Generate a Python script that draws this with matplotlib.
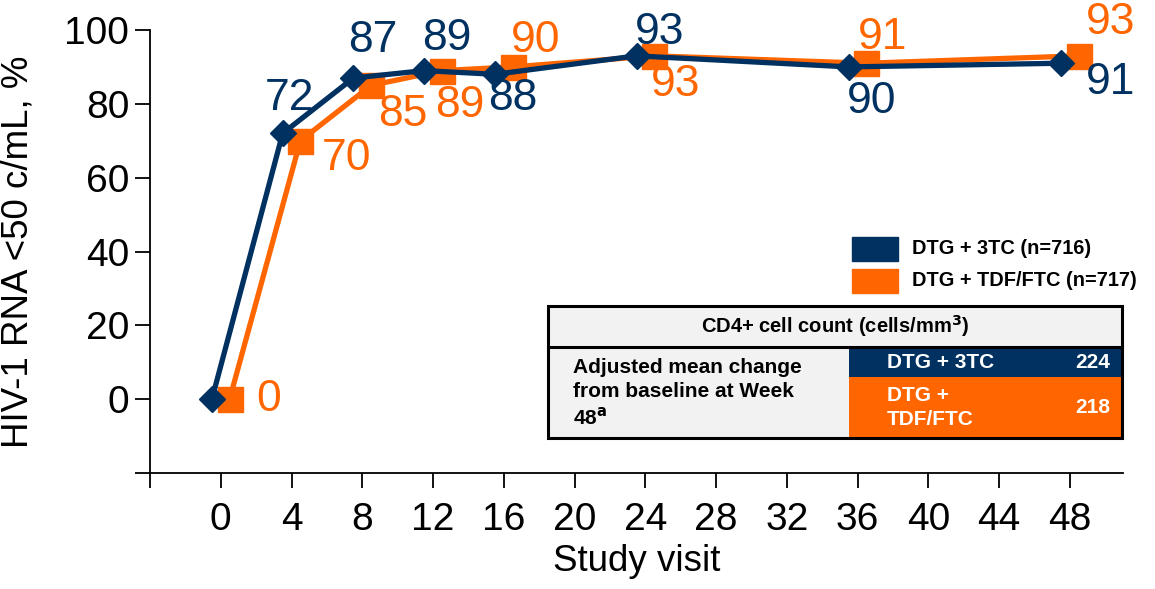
import matplotlib
matplotlib.use("Agg")
import matplotlib.pyplot as plt
from matplotlib.patches import Rectangle

plt.rcParams['font.family'] = ['Liberation Sans', 'DejaVu Sans']

# Study visits (weeks) and response rates (%)
weeks = [0, 4, 8, 12, 16, 24, 36, 48]
dtg_3tc = [0, 72, 87, 89, 88, 93, 90, 91]
dtg_tdf = [0, 70, 85, 89, 90, 93, 91, 93]
series_names = ["DTG + 3TC (n=716)", "DTG + TDF/FTC (n=717)"]
xtick_values = list(range(-4, 49, 4))
ytick_values = list(range(-20, 101, 20))

# CD4+ table contents
cd4_header = "CD4+ cell count (cells/mm$^{\\mathbf{3}}$)"
cd4_row_label = "Adjusted mean change\nfrom baseline at Week\n48$^{\\mathbf{a}}$"
cd4_arms = ["DTG + 3TC", "DTG +\nTDF/FTC"]
cd4_values = [224, 218]

NAVY = "#003161"
ORANGE = "#FF6600"

fig = plt.figure(figsize=(11.55, 5.89), dpi=100)
W, H = 1155, 589
ax = fig.add_axes([150 / W, 1 - 473 / H, (1123 - 150) / W, (473 - 30) / H])

off = 0.5
x_dtg = [w - off for w in weeks]
x_tdf = [w + off for w in weeks]

ax.plot(x_tdf, dtg_tdf, color=ORANGE, lw=3.8, marker="s", ms=18,
        clip_on=False, zorder=3)
ax.plot(x_dtg, dtg_3tc, color=NAVY, lw=3.8, marker="D", ms=13,
        clip_on=False, zorder=4)

# value labels: (dx in weeks, dy in %) offsets from each point
dtg_offsets = [None, (0.4, 9.5), (1.1, 10.2), (1.3, 8.7), (1.0, -6.5),
               (1.3, 6.3), (1.3, -9.3), (2.8, -5.2)]
tdf_offsets = [(2.2, 0), (2.6, -4.8), (1.8, -8), (1.0, -9.4), (1.3, 7.2),
               (1.2, -7.7), (0.9, 7.1), (1.8, 9.0)]
for x, y, o in zip(x_dtg, dtg_3tc, dtg_offsets):
    if o is None:
        continue
    ax.text(x + o[0], y + o[1], str(y), color=NAVY, fontsize=32,
            ha="center", va="center", zorder=5, clip_on=False)
for x, y, o in zip(x_tdf, dtg_tdf, tdf_offsets):
    ax.text(x + o[0], y + o[1], str(y), color=ORANGE, fontsize=32,
            ha="center", va="center", zorder=5, clip_on=False)

ax.set_xlim(-4, 51)
ax.set_ylim(-20, 100)
ax.set_xticks(xtick_values)
ax.set_xticklabels(["" if v < 0 else str(v) for v in xtick_values])
ax.set_yticks(ytick_values)
ax.set_yticklabels(["" if v < 0 else str(v) for v in ytick_values])
ax.tick_params(axis="both", labelsize=28, length=11, width=1.3, color="black")
ax.tick_params(axis="x", pad=10)
ax.tick_params(axis="y", pad=4)
for s in ("top", "right"):
    ax.spines[s].set_visible(False)
for s in ("left", "bottom"):
    ax.spines[s].set_linewidth(1.3)
ax.set_xlabel("Study visit", fontsize=26.5, labelpad=4)
ax.set_ylabel("HIV-1 RNA <50 c/mL, %", fontsize=26.5)
ax.yaxis.set_label_coords(-0.118, 0.5)

# overlay in pixel coordinates for legend and table
ov = fig.add_axes([0, 0, 1, 1], zorder=10)
ov.set_xlim(0, W)
ov.set_ylim(H, 0)
ov.axis("off")
ov.patch.set_alpha(0)

# legend
for i, (name, col) in enumerate(zip(series_names, [NAVY, ORANGE])):
    y0 = 237 + i * 32
    ov.add_patch(Rectangle((852, y0), 46, 24, color=col))
    ov.text(912, y0 + 12, name, fontsize=14.4, fontweight="bold",
            ha="left", va="center")

# CD4+ table
tx0, tx1, ty0, tsep, ty1 = 548, 1122, 306, 347, 438
split_x = 849
ov.add_patch(Rectangle((tx0, ty0), tx1 - tx0, ty1 - ty0, facecolor="#F2F2F2",
                       edgecolor="none"))
ov.add_patch(Rectangle((split_x, tsep), tx1 - split_x, 30, facecolor=NAVY,
                       edgecolor="none"))
ov.add_patch(Rectangle((split_x, tsep + 30), tx1 - split_x, ty1 - tsep - 30,
                       facecolor=ORANGE, edgecolor="none"))
ov.add_patch(Rectangle((tx0, ty0), tx1 - tx0, ty1 - ty0, facecolor="none",
                       edgecolor="black", lw=2.2))
ov.plot([tx0, tx1], [tsep, tsep], color="black", lw=2.2)
ov.text((tx0 + tx1) / 2, (ty0 + tsep) / 2, cd4_header, fontsize=14.5,
        fontweight="bold", ha="center", va="center")
ov.text(573, 393, cd4_row_label, fontsize=15, fontweight="bold",
        ha="left", va="center", linespacing=1.3)
row_centers = [tsep + 15, (tsep + 30 + ty1) / 2]
for arm, val, yc in zip(cd4_arms, cd4_values, row_centers):
    ov.text(887, yc, arm, fontsize=15, fontweight="bold", color="white",
            ha="left", va="center", linespacing=1.3)
    ov.text(1110, yc, str(val), fontsize=15, fontweight="bold",
            color="white", ha="right", va="center")

fig.savefig("out.png", dpi=100)
